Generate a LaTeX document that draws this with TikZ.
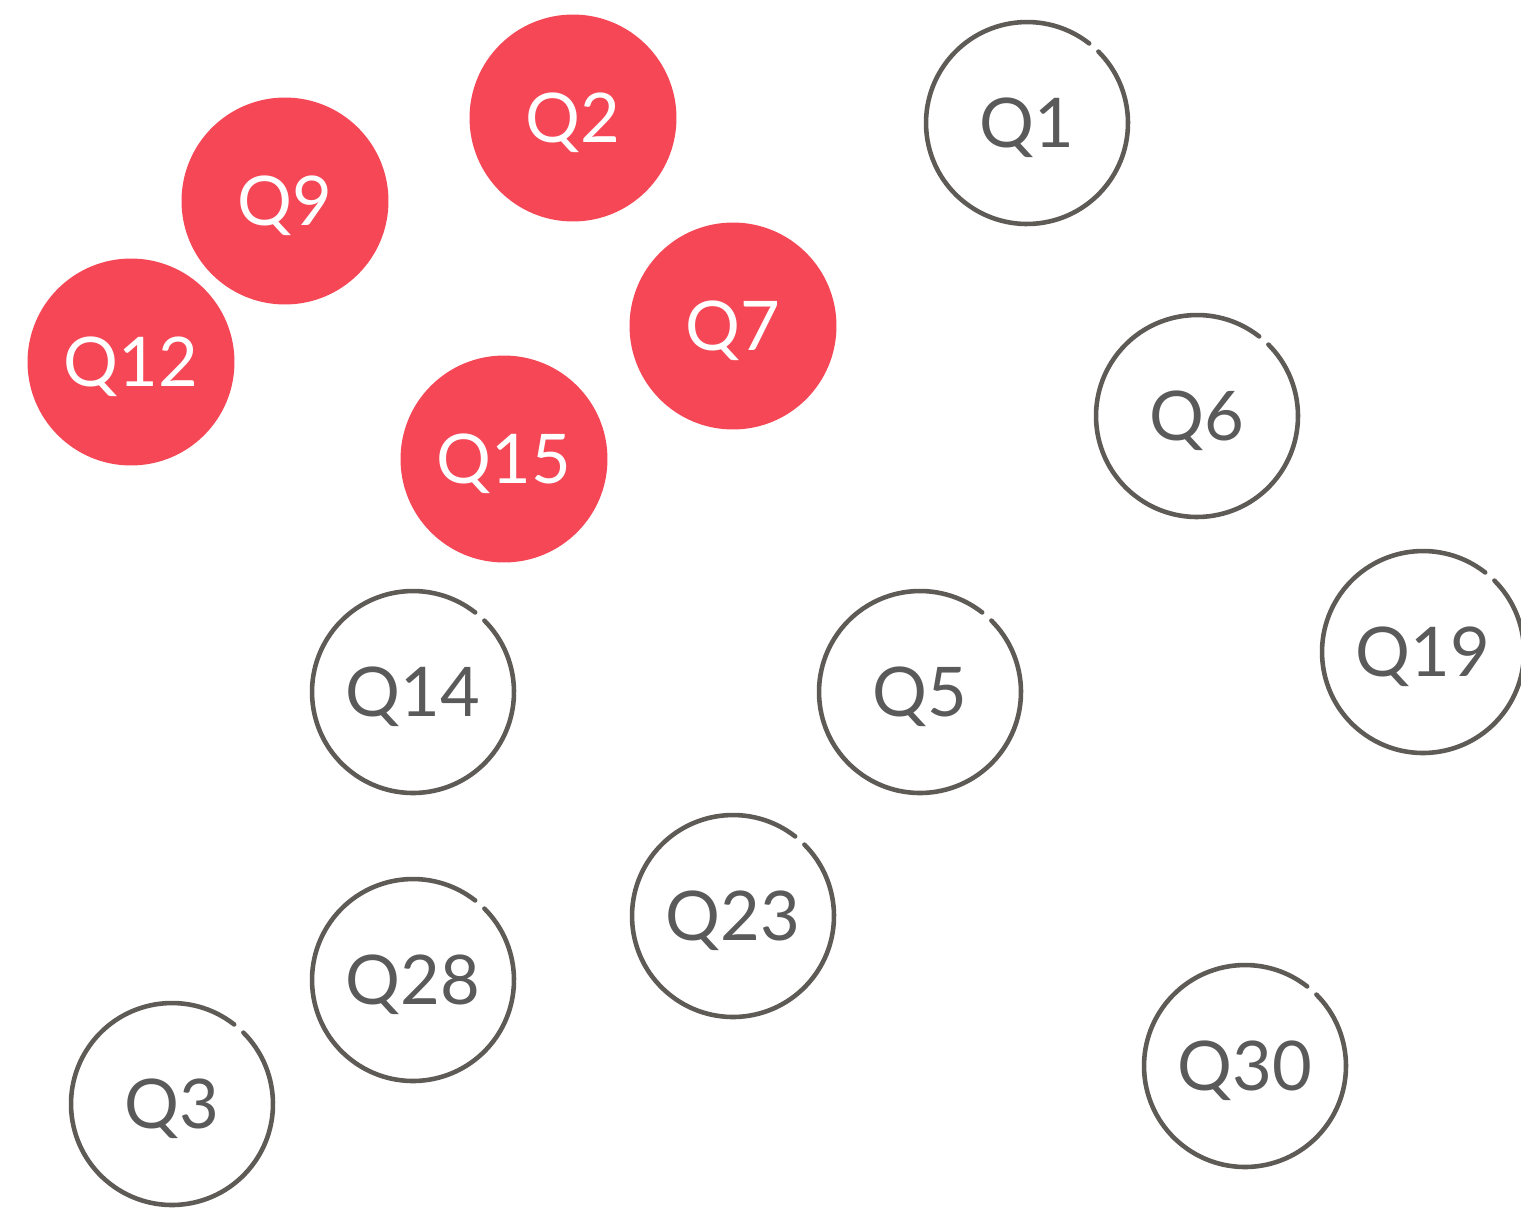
\documentclass[tikz,border=0pt]{standalone}
\usepackage{fontspec}
\setmainfont{Lato}
\definecolor{qred}{HTML}{F64757}
\definecolor{qgray}{HTML}{5E5B57}
\definecolor{qtext}{HTML}{5A5A5A}
\newcommand{\qlbl}[1]{\raisebox{-0.09cm}[\height][\depth]{#1}}
\tikzset{
  redq/.style={circle, fill=qred, minimum size=4.14cm, inner sep=0pt, text=white, font=\fontsize{39}{39}\selectfont},
  grayq/.style={circle, minimum size=4.08cm, inner sep=0pt, text=qtext, font=\fontsize{39}{39}\selectfont},
  ring/.style={draw=qgray, line width=2.6pt, line cap=round}
}
\begin{document}
\begin{tikzpicture}[x=0.02cm, y=-0.02cm]
\useasboundingbox (0,0) rectangle (1521,1208);
\node[redq] (q2) at (573,118) {\qlbl{Q2}};
\node[redq] (q9) at (285,201) {\qlbl{Q9}};
\node[redq] (q12) at (131,362) {\qlbl{Q12}};
\node[redq] (q7) at (733,326) {\qlbl{Q7}};
\node[redq] (q15) at (504,459) {\qlbl{Q15}};
\foreach \n/\x/\y/\t in {q1/1027/123/Q1, q6/1197/416/Q6, q19/1423/652/Q19, q14/413/692/Q14, q5/920/692/Q5, q23/733/916/Q23, q28/413/980/Q28, q3/172/1104/Q3, q30/1245/1066/Q30}{
  \node[grayq] (\n) at (\x,\y) {\qlbl{\t}};
  \draw[ring] (\n.center) ++(52:2.02cm) arc[start angle=52, end angle=405, radius=2.02cm];
}
\end{tikzpicture}
\end{document}
